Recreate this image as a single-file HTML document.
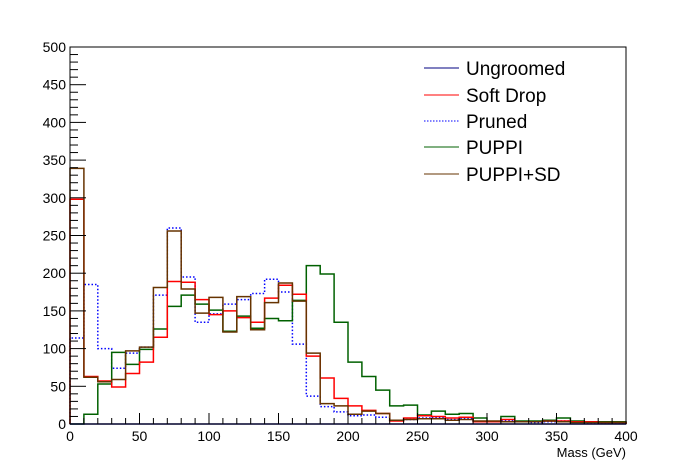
<!DOCTYPE html>
<html><head><meta charset="utf-8"><style>
html,body{margin:0;padding:0;background:#fff;width:696px;height:472px;overflow:hidden}
svg text{font-family:"Liberation Sans",Arial,sans-serif}
</style></head><body>
<svg id="s" width="696" height="472" xmlns="http://www.w3.org/2000/svg">
<rect x="0" y="0" width="696" height="472" fill="#fff"/>
<g id="hist" fill="none" stroke-width="1.5"></g>
<rect x="70" y="47" width="556" height="377" fill="none" stroke="#000" stroke-width="1"/>
<g id="axes" stroke="#000" stroke-width="1"></g>
<g id="labels" font-size="14" fill="#000"></g>
<text x="626" y="457" font-size="13" text-anchor="end">Mass (GeV)</text>
<g font-size="19" fill="#000">
<line x1="424" y1="68" x2="459" y2="68" stroke="#000080" stroke-width="1"/>
<text x="466" y="75">Ungroomed</text>
<line x1="424" y1="95" x2="459" y2="95" stroke="#ff0000" stroke-width="1"/>
<text x="466" y="102">Soft Drop</text>
<line x1="424" y1="121" x2="459" y2="121" stroke="#0000ff" stroke-width="1" stroke-dasharray="1.5,1.5"/>
<text x="466" y="128">Pruned</text>
<line x1="424" y1="147" x2="459" y2="147" stroke="#006000" stroke-width="1"/>
<text x="466" y="154">PUPPI</text>
<line x1="424" y1="174" x2="459" y2="174" stroke="#663300" stroke-width="1"/>
<text x="466" y="181">PUPPI+SD</text>
</g>
</svg>
<script>
var X0=70,XW=556,Y0=424,YS=377/500,NS="http://www.w3.org/2000/svg";
function px(v){return X0+v/400*XW}function py(v){return Y0-v*YS}
function path(d,col,dash){var s="M"+X0+","+Y0;for(var i=0;i<d.length;i++){var a=px(i*10),b=px(i*10+10),y=py(d[i]);s+=" L"+a+","+y+" L"+b+","+y;}s+=" L"+px(400)+","+Y0;var p=document.createElementNS(NS,"path");p.setAttribute("d",s);p.setAttribute("stroke",col);if(dash)p.setAttribute("stroke-dasharray",dash);document.getElementById("hist").appendChild(p);}
var brown=[339,62,56,59,97,102,181,256,179,147,168,122,169,125,161,187,163,94,27,24,13,17,14,5,6,7,7,5,6,4,4,3,3,3,4,3,2,2,2,2];
var red=[298,63,57,49,67,82,115,189,188,165,145,150,141,135,167,184,172,90,61,34,24,18,14,4,8,11,10,8,9,3,3,6,3,3,4,4,3,3,2,2];
var green=[0,13,53,95,79,99,126,156,171,159,151,123,143,127,140,137,164,210,199,135,82,63,45,24,25,12,17,13,14,8,3,10,4,4,5,8,4,3,3,3];
var blue=[114,185,100,74,94,102,171,260,195,135,146,159,165,173,192,175,106,37,23,16,11,12,9,5,6,8,9,6,7,3,3,5,3,2,3,4,3,2,2,2];
var zero=[];for(var i=0;i<40;i++)zero.push(0);
path(blue,"#0000ff","1.5,2");path(green,"#006000");path(red,"#ff0000");path(brown,"#663300");path(zero,"#000080");
var ax=document.getElementById("axes"),lb=document.getElementById("labels");
function ln(a,b,c,d){var l=document.createElementNS(NS,"line");l.setAttribute("x1",a);l.setAttribute("y1",b);l.setAttribute("x2",c);l.setAttribute("y2",d);ax.appendChild(l);}
function tx(x,y,t,anc){var e=document.createElementNS(NS,"text");e.setAttribute("x",x);e.setAttribute("y",y);e.setAttribute("text-anchor",anc);e.textContent=t;lb.appendChild(e);}
for(var v=0;v<=500;v+=10){var y=py(v);ln(70,y,70+(v%50==0?16:8),y);if(v%50==0)tx(66,y+5,""+v,"end");}
for(var v=0;v<=400;v+=10){var x=px(v);ln(x,424,x,424-(v%50==0?11:6));if(v%50==0)tx(x,441,""+v,"middle");}
</script>
</body></html>
